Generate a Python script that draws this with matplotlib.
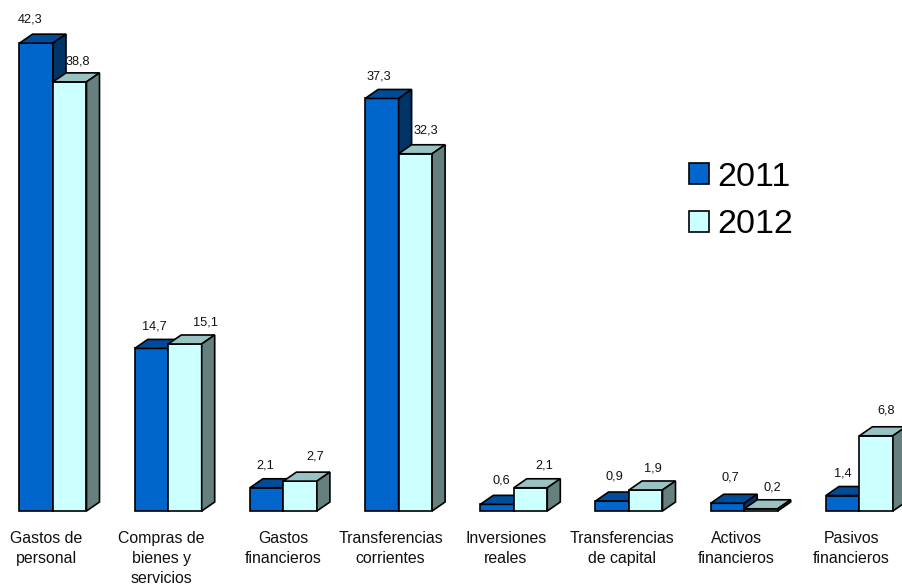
# -*- coding: utf-8 -*-
from matplotlib import pyplot as plt
from matplotlib.patches import Patch, Polygon
import numpy as np

plt.rcParams['font.family'] = ['Liberation Sans', 'DejaVu Sans']

categories = ['Gastos de\npersonal', 'Compras de\nbienes y\nservicios', 'Gastos\nfinancieros',
              'Transferencias\ncorrientes', 'Inversiones\nreales', 'Transferencias\nde capital',
              'Activos\nfinancieros', 'Pasivos\nfinancieros']
values2011 = [42.3, 14.7, 2.1, 37.3, 0.6, 0.9, 0.7, 1.4]
values2012 = [38.8, 15.1, 2.7, 32.3, 2.1, 1.9, 0.2, 6.8]
seriesNames = ['2011', '2012']

# escala en pixeles de la imagen
figW, figH = 903, 584
groupPx, unitPx = 115.2, 11.06
originX, baseY = 53, 511
barW = 33.5 / groupPx
depthX, depthY = 13 / groupPx, 9 / unitPx

front = ['#0066CC', '#CCFFFF']
top = ['#004C99', '#99C2C2']
side = ['#003366', '#668080']

# desplazamiento de las etiquetas respecto a la barra (px)
labelOff2011 = [(-6, 24), (3, 22), (-1, 22), (-3, 22), (4, 24), (2, 25), (3, 26), (0, 22)]
labelOff2012 = [(8, 20), (20, 21), (15, 25), (10, 23), (14, 22), (7, 21), (11, 21), (10, 25)]
catOff = [-7, -7, 0, -8, -8, -7, -8, -8]

fig = plt.figure(figsize=(figW / 100, figH / 100), dpi=100)
ax = fig.add_axes([0, 0, 1, 1])
ax.set_xlim(-originX / groupPx, (figW - originX) / groupPx)
ax.set_ylim(-(figH - baseY) / unitPx, baseY / unitPx)
ax.axis('off')


def bar3d(x, h, s):
    ax.bar(x, h, barW, align='edge', color=front[s], edgecolor='black', linewidth=1.2, zorder=3)
    ax.add_patch(Polygon([(x, h), (x + depthX, h + depthY), (x + barW + depthX, h + depthY), (x + barW, h)],
                         facecolor=top[s], edgecolor='black', linewidth=1.2, zorder=3))
    ax.add_patch(Polygon([(x + barW, 0), (x + barW + depthX, depthY), (x + barW + depthX, h + depthY), (x + barW, h)],
                         facecolor=side[s], edgecolor='black', linewidth=1.2, zorder=3))


for i in range(len(categories)):
    bar3d(i - barW, values2011[i], 0)
    bar3d(i, values2012[i], 1)
    dx, dy = labelOff2011[i]
    ax.text(i - barW / 2 + dx / groupPx, values2011[i] + dy / unitPx, str(values2011[i]).replace('.', ','),
            ha='center', va='center', fontsize=9.2, color='#111111', zorder=4)
    dx, dy = labelOff2012[i]
    ax.text(i + barW / 2 + dx / groupPx, values2012[i] + dy / unitPx, str(values2012[i]).replace('.', ','),
            ha='center', va='center', fontsize=9.2, color='#111111', zorder=4)
    ax.text(i + catOff[i] / groupPx, -20 / unitPx, categories[i], ha='center', va='top',
            fontsize=11.4, linespacing=1.4, color='#111111')

handles = [Patch(facecolor=front[0], edgecolor='black', linewidth=1.2),
           Patch(facecolor=front[1], edgecolor='black', linewidth=1.2)]
ax.legend(handles, seriesNames, loc='upper left', bbox_to_anchor=(682 / figW, 1 - 155 / figH), frameon=False,
          fontsize=24.5, handlelength=0.58, handleheight=0.58, handletextpad=0.25, labelspacing=0.48,
          borderpad=0.2, borderaxespad=0)

plt.savefig('out.png', dpi=100)
